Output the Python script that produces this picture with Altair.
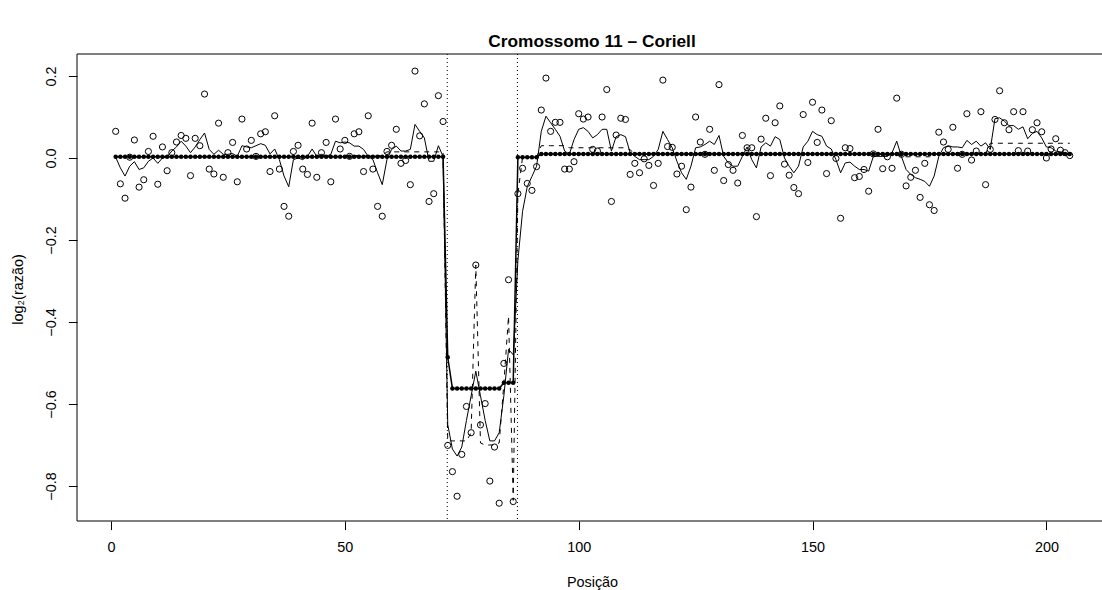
import altair as alt
import pandas as pd

# ---- data ----
posicao = list(range(1, 206))

razao = [
    0.065, -0.063, -0.098, 0.002, 0.044, -0.071, -0.053, 0.016, 0.053, -0.064,
    0.027, -0.031, 0.013, 0.039, 0.055, 0.048, -0.043, 0.048, 0.030, 0.156,
    -0.027, -0.039, 0.085, -0.047, 0.013, 0.038, -0.058, 0.095, 0.022, 0.043,
    0.004, 0.059, 0.064, -0.033, 0.103, -0.027, -0.118, -0.142, 0.016, 0.031,
    -0.027, -0.040, 0.085, -0.047, 0.013, 0.038, -0.058, 0.095, 0.022, 0.043,
    0.004, 0.059, 0.064, -0.033, 0.103, -0.027, -0.118, -0.142, 0.016, 0.031,
    0.070, -0.013, -0.006, -0.065, 0.212, 0.054, 0.132, -0.106, -0.087, 0.152,
    0.089, -0.701, -0.765, -0.825, -0.723, -0.606, -0.670, -0.261, -0.651, -0.599,
    -0.788, -0.705, -0.842, -0.501, -0.297, -0.838, -0.087, -0.025, -0.062, -0.079,
    -0.021, 0.117, 0.195, 0.065, 0.087, 0.087, -0.027, -0.027, -0.009, 0.108,
    0.095, 0.100, 0.021, 0.017, 0.100, 0.167, -0.106, 0.056, 0.097, 0.094,
    -0.040, -0.013, -0.036, -0.002, -0.018, -0.067, -0.013, 0.190, 0.028, 0.026,
    -0.039, -0.020, -0.126, -0.071, 0.100, 0.039, 0.009, 0.070, -0.030, 0.179,
    -0.055, -0.016, -0.030, -0.061, 0.055, 0.025, 0.025, -0.143, 0.046, 0.097,
    -0.043, 0.086, 0.127, -0.015, -0.042, -0.072, -0.087, 0.106, -0.011, 0.136,
    0.038, 0.117, -0.038, 0.091, -0.001, -0.147, 0.025, 0.023, -0.048, -0.045,
    -0.028, -0.081, 0.010, 0.070, -0.026, 0.003, -0.025, 0.146, 0.009, -0.068,
    -0.047, -0.030, -0.096, -0.013, -0.114, -0.128, 0.063, 0.039, 0.021, 0.075,
    -0.025, 0.009, 0.108, -0.005, 0.017, 0.113, -0.065, 0.021, 0.094, 0.164,
    0.086, 0.069, 0.113, 0.018, 0.113, 0.017, 0.069, 0.086, 0.064, 0.000,
    0.022, 0.047, 0.019, 0.013, 0.006,
]

suavizado = [
    0.002, -0.024, -0.044, -0.020, -0.009, -0.028, -0.024, -0.008, 0.000, -0.013,
    0.000, 0.003, 0.017, 0.027, 0.041, 0.029, 0.013, 0.027, 0.045, 0.061,
    0.021, 0.009, 0.019, 0.009, 0.009, 0.011, 0.004, 0.030, 0.027, 0.025,
    0.030, 0.035, 0.031, 0.010, 0.022, -0.004, -0.044, -0.070, -0.004, 0.000,
    -0.004, 0.004, 0.022, 0.004, 0.009, 0.004, 0.009, 0.041, 0.037, 0.039,
    0.037, 0.029, 0.029, 0.021, 0.004, -0.004, -0.036, -0.065, -0.004, 0.021,
    0.029, 0.017, 0.017, 0.021, 0.082, 0.065, 0.049, -0.008, -0.008, 0.030,
    0.004, -0.650, -0.710, -0.727, -0.705, -0.640, -0.580, -0.520, -0.580, -0.640,
    -0.690, -0.690, -0.670, -0.580, -0.467, -0.480, -0.250, -0.130, -0.070, -0.045,
    -0.020, 0.065, 0.102, 0.086, 0.070, 0.053, 0.017, 0.009, 0.045, 0.070,
    0.074, 0.065, 0.049, 0.057, 0.070, 0.070, 0.017, 0.052, 0.057, 0.052,
    0.013, 0.004, -0.004, -0.004, -0.004, 0.004, 0.021, 0.065, 0.045, 0.025,
    -0.008, -0.036, -0.052, -0.020, 0.025, 0.027, 0.033, 0.041, 0.033, 0.055,
    0.004, -0.012, -0.020, -0.020, 0.004, 0.027, -0.004, -0.024, 0.027, 0.037,
    0.029, 0.052, 0.045, 0.000, -0.020, -0.036, -0.020, 0.027, 0.041, 0.065,
    0.057, 0.053, 0.029, 0.022, -0.004, -0.036, -0.012, -0.010, -0.020, -0.028,
    -0.028, -0.032, 0.004, 0.004, 0.004, 0.004, 0.013, 0.041, 0.004, -0.028,
    -0.040, -0.048, -0.052, -0.057, -0.069, -0.044, 0.004, 0.025, 0.030, 0.027,
    0.027, 0.025, 0.043, 0.033, 0.041, 0.029, 0.037, 0.021, 0.096, 0.098,
    0.090, 0.079, 0.079, 0.070, 0.076, 0.047, 0.060, 0.065, 0.049, 0.027,
    0.025, 0.017, 0.015, 0.013, 0.009,
]

tracejado = (
    [0.003] * 49 + [0.006] * 9 + [0.015] * 13
    + [-0.690, -0.690, -0.690, -0.690, -0.690, -0.670, -0.261, -0.695, -0.700,
       -0.700, -0.700, -0.695, -0.550, -0.386, -0.835, -0.087]
    + [0.002] * 4 + [0.030] * 6 + [0.025] * 13 + [0.020]
    + [0.010] * 57 + [0.003] * 7 + [0.010] * 12 + [0.036] * 18
)

segmentos = (
    [0.003] * 71 + [-0.486] + [-0.562] * 11 + [-0.548] * 3
    + [0.002] * 5 + [0.010] * 114
)

quebras = [71.9, 86.9]

titulo = "Cromossomo 11 – Coriell"
x_ticks = [0, 50, 100, 150, 200]
y_ticks = [-0.8, -0.6, -0.4, -0.2, 0.0, 0.2]

# ---- layout ----
W, H = 1025, 467
FONT = "Liberation Sans"

df = pd.DataFrame({
    "i": posicao, "raw": razao, "smooth": suavizado,
    "dash": tracejado, "seg": segmentos,
})
df_breaks = pd.DataFrame({"i": quebras})

x_enc = alt.X(
    "i:Q",
    scale=alt.Scale(domain=[-7.27, 211.89], nice=False, zero=False),
    axis=alt.Axis(
        values=x_ticks, domain=False, grid=False, tickSize=8.6, tickColor="black",
        tickWidth=1, labelFont=FONT, labelFontSize=14.4, labelColor="black",
        labelPadding=11, labelFlush=False, title="Posição", titleFont=FONT,
        titleFontSize=14.4, titleFontWeight="normal", titleColor="black",
        titleX=515, titleY=65, titleAlign="center", titleBaseline="alphabetic",
    ),
)
y_scale = alt.Scale(domain=[-0.8854, 0.2537], nice=False, zero=False)
y_axis = alt.Axis(
    values=y_ticks, format=".1f", domain=False, grid=False, tickSize=8.6,
    tickColor="black", tickWidth=1, labelFont=FONT, labelFontSize=14.4,
    labelColor="black", labelAngle=270, labelAlign="center",
    labelBaseline="alphabetic", labelPadding=13, labelFlush=False,
    title="log₂(razão)", titleFont=FONT, titleFontSize=14.4,
    titleFontWeight="normal", titleColor="black", titleX=-59, titleY=235,
    titleAngle=270, titleAlign="center", titleBaseline="middle",
)

base = alt.Chart(df).encode(x=x_enc)

pts = base.mark_point(shape="circle", filled=False, size=38, stroke="black",
                      strokeWidth=1, opacity=1).encode(
    y=alt.Y("raw:Q", scale=y_scale, axis=y_axis))
smooth = base.mark_line(color="black", strokeWidth=1).encode(
    y=alt.Y("smooth:Q", scale=y_scale, axis=y_axis))
dash = base.mark_line(color="black", strokeWidth=1, strokeDash=[5, 5]).encode(
    y=alt.Y("dash:Q", scale=y_scale, axis=y_axis))
seg_line = base.mark_line(color="black", strokeWidth=1.5).encode(
    y=alt.Y("seg:Q", scale=y_scale, axis=y_axis))
seg_pts = base.mark_circle(color="black", size=20, opacity=1).encode(
    y=alt.Y("seg:Q", scale=y_scale, axis=y_axis))
vlines = alt.Chart(df_breaks).mark_rule(color="black", strokeWidth=1,
                                        strokeDash=[1, 3]).encode(x=x_enc)

one = pd.DataFrame({"t": [titulo]})
frame_left = alt.Chart(one).mark_rule(color="black", strokeWidth=1).encode(
    x=alt.value(0), y=alt.value(0), y2=alt.value(H))
frame_top = alt.Chart(one).mark_rule(color="black", strokeWidth=1).encode(
    x=alt.value(0), x2=alt.value(W), y=alt.value(0))
frame_bottom = alt.Chart(one).mark_rule(color="black", strokeWidth=1).encode(
    x=alt.value(0), x2=alt.value(W), y=alt.value(H))
title = alt.Chart(one).mark_text(font=FONT, fontSize=17.3, fontWeight="bold",
                                 color="black", align="center",
                                 baseline="alphabetic").encode(
    text="t:N", x=alt.value(515), y=alt.value(-7))

chart = alt.layer(
    pts, smooth, dash, seg_line, seg_pts, vlines,
    frame_left, frame_top, frame_bottom, title,
).properties(
    width=W, height=H,
    autosize=alt.AutoSizeParams(type="none"),
    padding={"left": 77, "top": 54, "right": 0, "bottom": 69},
    background="white",
).configure_view(stroke=None)

chart.save("out.html", embed_options={"renderer": "svg", "actions": False})
